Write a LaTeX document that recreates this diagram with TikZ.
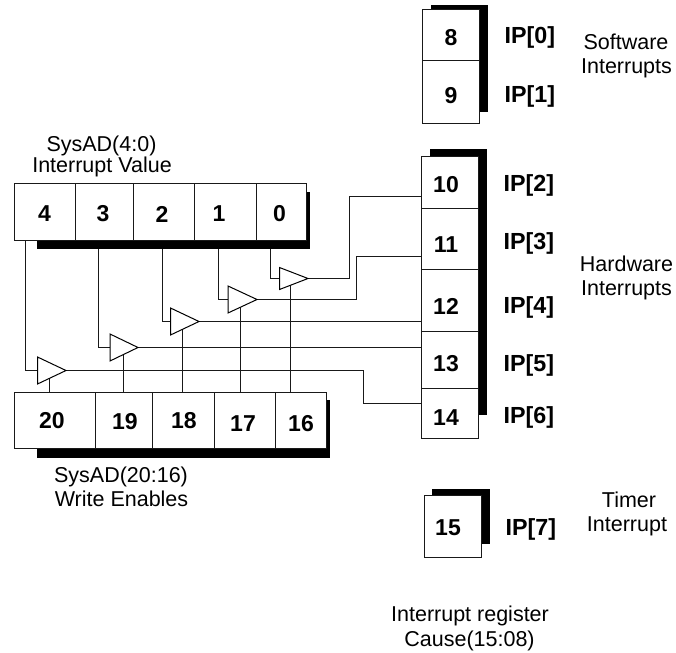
\documentclass[tikz,border=0pt]{standalone}
\usepackage{fontspec}
\setmainfont{Liberation Sans}
\tikzset{
  x=1pt,y=-1pt,
  wire/.style={draw=black!90,line width=1pt},
  shade/.style={fill=black},
  cell/.style={draw=black!90,fill=white,line width=1pt,inner sep=0pt,outer sep=0pt,rectangle},
  digit/.style={font=\fontsize{23}{24}\selectfont\bfseries,inner sep=0pt},
  iplabel/.style={font=\fontsize{23.3}{24}\selectfont\bfseries,inner sep=0pt,anchor=base west},
  caption/.style={font=\fontsize{21.5}{22}\selectfont,inner sep=0pt,anchor=base},
  buffer/.style={draw=black,fill=white,line width=1pt,line join=miter},
}
% name, left x, mid y, width, half height
\newcommand{\bufferat}[5]{\draw[buffer] (#2,#3-#5) -- (#2+#4,#3) -- (#2,#3+#5) -- cycle;}
\begin{document}
\begin{tikzpicture}
\useasboundingbox (0,0) rectangle (676,652);
\fill[white] (0,0) rectangle (676,652);
% shadows
\fill[shade] (37,192) rectangle (310,249);
\fill[shade] (37,400) rectangle (330,458);
\fill[shade] (431,5.5) rectangle (488,112);
\fill[shade] (429.5,149) rectangle (487,415);
\fill[shade] (432,489) rectangle (490,544);
% top register
\node[cell,minimum width=61,minimum height=56] (r4) at (44.5,212) {};
\node[cell,minimum width=58,minimum height=56] (r3) at (104,212) {};
\node[cell,minimum width=61,minimum height=56] (r2) at (163.5,212) {};
\node[cell,minimum width=62,minimum height=56] (r1) at (225,212) {};
\node[cell,minimum width=50.5,minimum height=56] (r0) at (281.25,212) {};
% bottom register
\node[cell,minimum width=81,minimum height=56] (e20) at (54.5,420) {};
\node[cell,minimum width=57,minimum height=56] (e19) at (123.5,420) {};
\node[cell,minimum width=62,minimum height=56] (e18) at (183,420) {};
\node[cell,minimum width=61,minimum height=56] (e17) at (244.5,420) {};
\node[cell,minimum width=51,minimum height=56] (e16) at (300.5,420) {};
% cause cells
\node[cell,minimum width=57,minimum height=51] (c8) at (451,35.5) {};
\node[cell,minimum width=57,minimum height=63] (c9) at (451,92.5) {};
\node[cell,minimum width=56.5,minimum height=51] (c10) at (449.75,182.5) {};
\node[cell,minimum width=56.5,minimum height=61.5] (c11) at (449.75,238.75) {};
\node[cell,minimum width=56.5,minimum height=61.5] (c12) at (449.75,300.25) {};
\node[cell,minimum width=56.5,minimum height=57.5] (c13) at (449.75,359.75) {};
\node[cell,minimum width=56.5,minimum height=50] (c14) at (449.75,413.5) {};
\node[cell,minimum width=57,minimum height=61.5] (c15) at (452.5,526.25) {};
% bends and branch points
\coordinate (w4) at (25.5,240);
\coordinate (w3) at (98.5,249);
\coordinate (w2) at (162.5,249);
\coordinate (w1) at (218.5,249);
\coordinate (w0) at (270.5,249);
\coordinate (en20) at (49.5,392);
\coordinate (en19) at (123.5,392);
\coordinate (en18) at (182.5,392);
\coordinate (en17) at (240.5,392);
\coordinate (en16) at (290.5,392);
\coordinate (t10) at (421.5,196.5);
\coordinate (t11) at (421.5,256.5);
\coordinate (t12) at (421.5,321.5);
\coordinate (t13) at (421.5,347.5);
\coordinate (t14) at (421.5,403.5);
\coordinate (k10) at (349.5,278.5);
\coordinate (k11) at (356.5,299.5);
\coordinate (k14) at (363.5,370.5);
\coordinate (b1) at (37.5,370.5);
\coordinate (b2) at (110,347.5);
\coordinate (b3) at (170.5,321.5);
\coordinate (b4) at (228,299.5);
\coordinate (b5) at (279.5,278.5);
\coordinate (a1) at (66,370.5);
\coordinate (a2) at (138,347.5);
\coordinate (a3) at (199,321.5);
\coordinate (a4) at (257,299.5);
\coordinate (a5) at (308,278.5);
% wires
\draw[wire] (w4) |- (b1);
\draw[wire] (w3) |- (b2);
\draw[wire] (w2) |- (b3);
\draw[wire] (w1) |- (b4);
\draw[wire] (w0) |- (b5);
\draw[wire] (en20) -- (en20 |- b1);
\draw[wire] (en19) -- (en19 |- b2);
\draw[wire] (en18) -- (en18 |- b3);
\draw[wire] (en17) -- (en17 |- b4);
\draw[wire] (en16) -- (en16 |- b5);
\draw[wire] (a1) -- (k14) |- (t14);
\draw[wire] (a2) -- (t13);
\draw[wire] (a3) -- (t12);
\draw[wire] (a4) -- (k11) |- (t11);
\draw[wire] (a5) -- (k10) |- (t10);
% buffers
\bufferat{tri1}{37.5}{370.5}{28.5}{13.5}
\bufferat{tri2}{110}{347.5}{28}{13.5}
\bufferat{tri3}{170.5}{321.5}{28.5}{13.5}
\bufferat{tri4}{228}{299.5}{29}{13.5}
\bufferat{tri5}{279.5}{278.5}{28.5}{11}
% digits
\node[digit] (d4) at (44.5,214) {4};
\node[digit] (d3) at (103,214) {3};
\node[digit] (d2) at (162,214) {2};
\node[digit] (d1) at (219,214) {1};
\node[digit] (d0) at (279.5,214) {0};
\node[digit] (d20) at (52,421) {20};
\node[digit] (d19) at (125,422) {19};
\node[digit] (d18) at (184,421) {18};
\node[digit] (d17) at (243,423.5) {17};
\node[digit] (d16) at (301,423.5) {16};
\node[digit] (d8) at (451,37.5) {8};
\node[digit] (d9) at (451,96) {9};
\node[digit] (d10) at (446,185) {10};
\node[digit] (d11) at (446,245) {11};
\node[digit] (d12) at (446,306) {12};
\node[digit] (d13) at (446,364) {13};
\node[digit] (d14) at (446,418) {14};
\node[digit] (d15) at (448,528) {15};
% IP labels
\node[iplabel] (ip0) at (504.5,43.5) {IP[0]};
\node[iplabel] (ip1) at (504.5,102.5) {IP[1]};
\node[iplabel] (ip2) at (503.5,192) {IP[2]};
\node[iplabel] (ip3) at (503.5,249.5) {IP[3]};
\node[iplabel] (ip4) at (503.5,313.4) {IP[4]};
\node[iplabel] (ip5) at (503.5,371) {IP[5]};
\node[iplabel] (ip6) at (503.5,423.4) {IP[6]};
\node[iplabel] (ip7) at (505.5,535) {IP[7]};
% captions
\node[caption] (s1) at (101.5,152) {SysAD(4:0)};
\node[caption] (s2) at (102,172.7) {Interrupt Value};
\node[caption] (s3) at (121,482.7) {SysAD(20:16)};
\node[caption] (s4) at (121.5,506.7) {Write Enables};
\node[caption] (s5) at (626,50) {Software};
\node[caption] (s6) at (626.5,74) {Interrupts};
\node[caption] (s7) at (626.5,271) {Hardware};
\node[caption] (s8) at (626.5,295) {Interrupts};
\node[caption] (s9) at (629,507.7) {Timer};
\node[caption] (s10) at (627,531) {Interrupt};
\node[caption] (s11) at (470,621.7) {Interrupt register};
\node[caption] (s12) at (469.5,646) {Cause(15:08)};
\end{tikzpicture}
\end{document}
